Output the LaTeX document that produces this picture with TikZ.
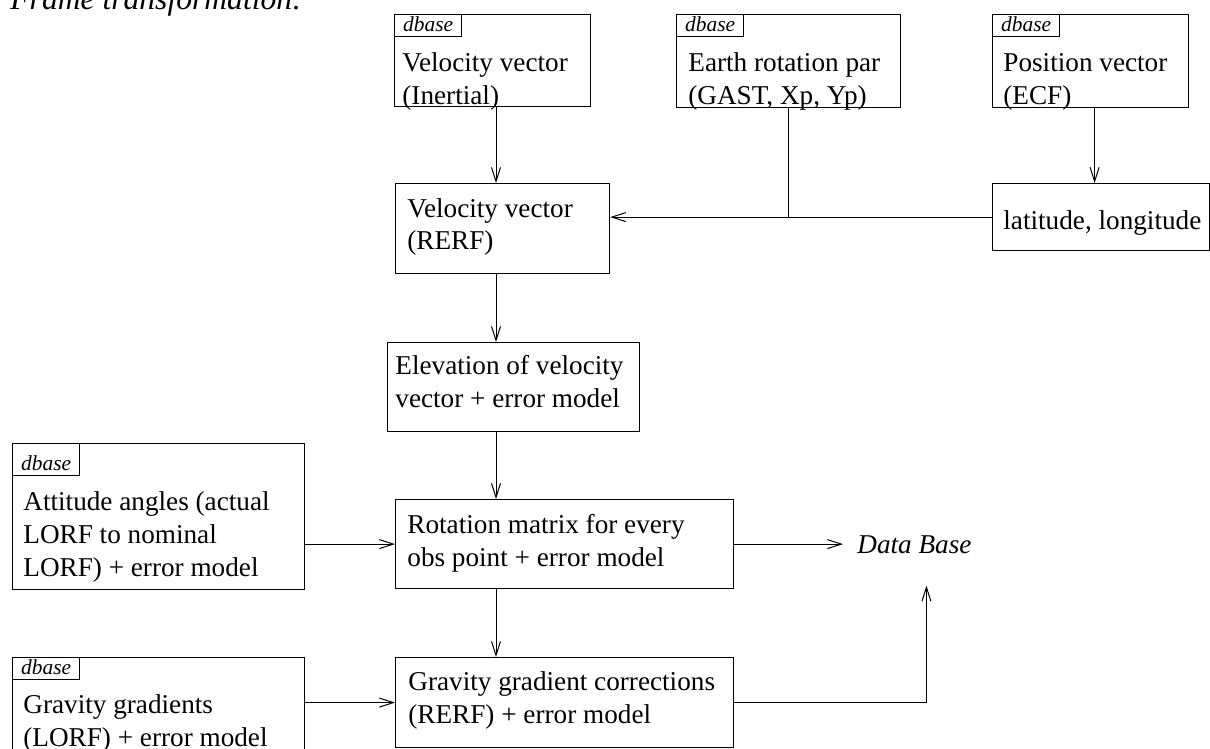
\documentclass[tikz,border=0pt]{standalone}
\usepackage{fontspec}
\setmainfont{Liberation Serif}
\usetikzlibrary{arrows.meta}
% multi-line box text, baseline on the first line
\newcommand\mlines[1]{\begin{tabular}[t]{@{}l@{}}#1\end{tabular}}
\begin{document}
\begin{tikzpicture}[x=0.5pt,y=-0.5pt,
  box/.style={draw, line width=0.6pt, inner sep=0pt, anchor=north west},
  txt/.style={anchor=base west, inner sep=0pt, font=\fontsize{13.6}{16.5}\selectfont},
  tag/.style={draw, line width=0.6pt, anchor=north west, inner xsep=4.3pt, inner ysep=1pt,
              text height=7.6pt, text depth=1.4pt, font=\itshape\fontsize{10.7}{12}\selectfont},
  arr/.style={line width=0.5pt, -{Straight Barb[length=7pt,width=4.5pt]}},
  link/.style={line width=0.5pt}]
\useasboundingbox (0,0) rectangle (1210,749);
\clip (0,0) rectangle (1210,749);

% heading
\node[anchor=base west, inner sep=0pt, font=\itshape\fontsize{15.8}{18}\selectfont] (title) at (10,10) {Frame transformation:};

% inputs along the top
\node[box, minimum width=98pt, minimum height=46pt] (A) at (394,14) {};
\node[tag] (Atag) at (A.north west) {dbase};
\node[txt] (Atxt) at (402,72) {\mlines{Velocity vector\\(Inertial)}};

\node[box, minimum width=112pt, minimum height=46.5pt] (B) at (676,14) {};
\node[tag] (Btag) at (B.north west) {dbase};
\node[txt] (Btxt) at (688,72) {\mlines{Earth rotation par\\(GAST, Xp, Yp)}};

\node[box, minimum width=98pt, minimum height=46.5pt] (C) at (992,14) {};
\node[tag] (Ctag) at (C.north west) {dbase};
\node[txt] (Ctxt) at (1003,72) {\mlines{Position vector\\(ECF)}};

% second row
\node[box, minimum width=107pt, minimum height=45pt] (D) at (395,183) {};
\node[txt] (Dtxt) at (407,217) {\mlines{Velocity vector\\(RERF)}};

\node[box, minimum width=108.5pt, minimum height=33.5pt] (E) at (992,183) {};
\node[txt] (Etxt) at (1003,229) {latitude, longitude};

% elevation
\node[box, minimum width=126pt, minimum height=44.5pt] (F) at (387,342) {};
\node[txt] (Ftxt) at (395,374) {\mlines{Elevation of velocity\\vector + error model}};

% attitude input and rotation matrix
\node[box, minimum width=146pt, minimum height=73pt] (G) at (12,443) {};
\node[tag, text height=12.5pt, text depth=1.5pt] (Gtag) at (G.north west) {dbase};
\node[txt] (Gtxt) at (23,510) {\mlines{Attitude angles (actual\\LORF to nominal\\LORF) + error model}};

\node[box, minimum width=169pt, minimum height=44.5pt] (H) at (395,499) {};
\node[txt] (Htxt) at (407,533) {\mlines{Rotation matrix for every\\obs point + error model}};

% gravity gradients
\node[box, minimum width=146pt, minimum height=52pt] (J) at (12,657) {};
\node[tag] (Jtag) at (J.north west) {dbase};
\node[txt] (Jtxt) at (23,713) {\mlines{Gravity gradients\\(LORF) + error model}};

\node[box, minimum width=169pt, minimum height=45pt] (I) at (395,657) {};
\node[txt] (Itxt) at (408,690) {\mlines{Gravity gradient corrections\\(RERF) + error model}};

% output
\node[anchor=base west, inner xsep=7pt, inner ysep=16pt, font=\itshape\fontsize{13.6}{16.5}\selectfont] (DB) at (843,553) {Data Base};

% connectors
\coordinate (spine) at (496,0);
\draw[arr] (spine |- A.south) -- (spine |- D.north);
\draw[arr] (spine |- D.south) -- (spine |- F.north);
\draw[arr] (spine |- F.south) -- (spine |- H.north);
\draw[arr] (spine |- H.south) -- (spine |- I.north);

\draw[arr] ([xshift=2pt]C.south) -- ([xshift=2pt]C.south |- E.north);
\draw[arr] (E.west) -- (E.west -| D.east);
\draw[link] (B.south) -- (B.south |- E.west);

\draw[arr] (G.east |- H.west) -- (H.west);
\draw[arr] (J.east |- I.west) -- (I.west);

\draw[arr] (H.east) -- (H.east -| DB.west);
\draw[arr] (I.east) -| ([xshift=6pt]DB.south);
\end{tikzpicture}
\end{document}
